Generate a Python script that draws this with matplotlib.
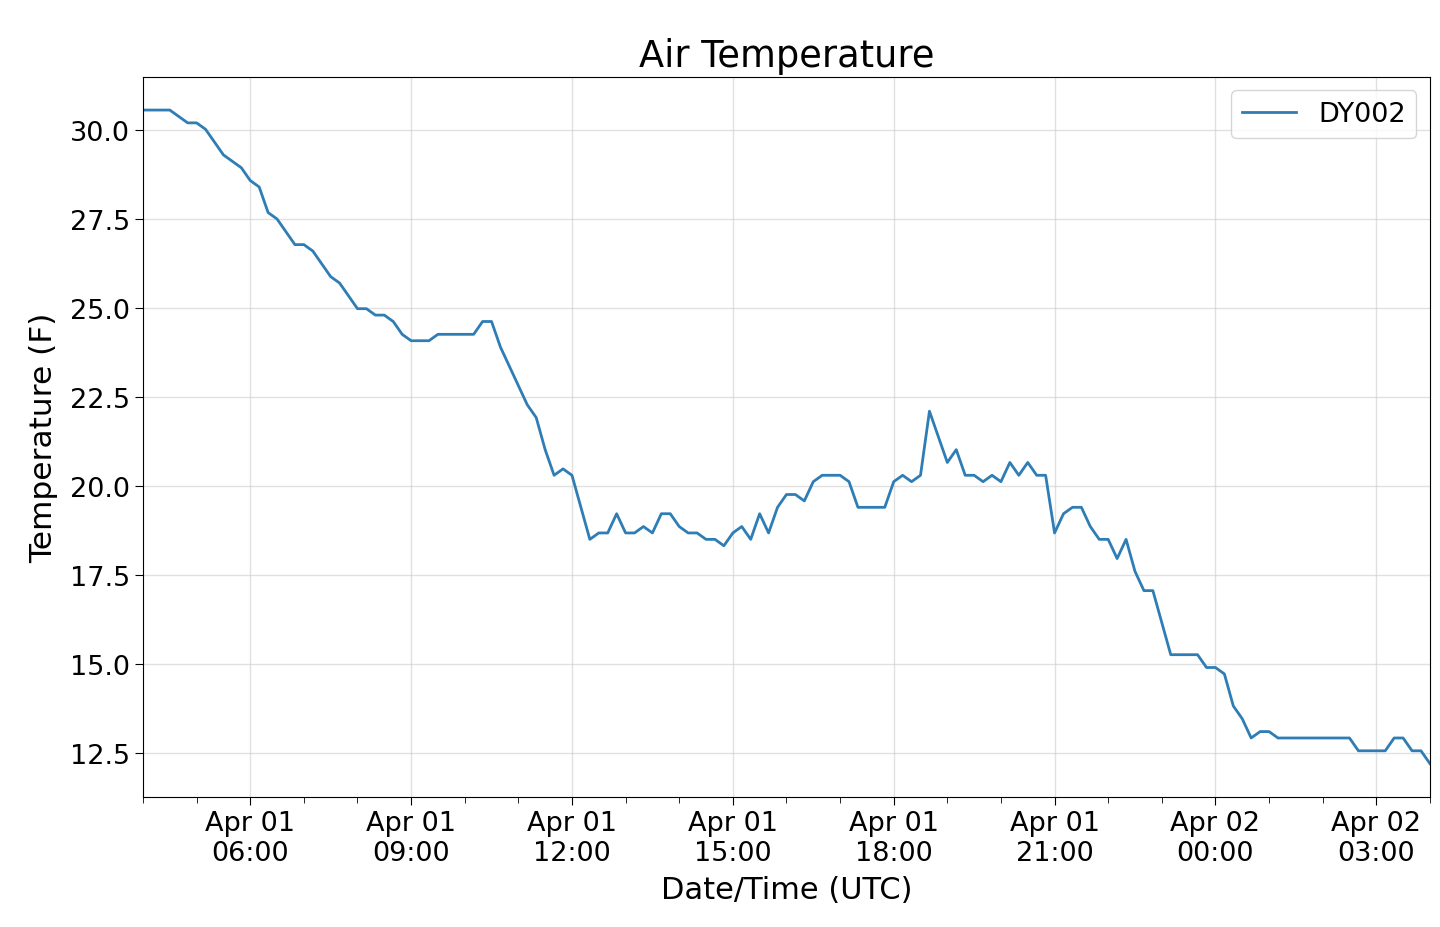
import pandas as pd
import matplotlib
matplotlib.use('Agg')
import matplotlib.pyplot as plt
import matplotlib.dates as mdates

# Lecturas cada 10 minutos, 04:00 Apr 01 -> 04:00 Apr 02
tiempos = pd.date_range('2019-04-01 04:00', periods=145, freq='10min')

temp_f = [
    30.56, 30.56, 30.56, 30.56, 30.38, 30.2, 30.2, 30.02, 29.66, 29.3,
    29.12, 28.94, 28.58, 28.4, 27.68, 27.5, 27.14, 26.78, 26.78, 26.6,
    26.24, 25.88, 25.7, 25.34, 24.98, 24.98, 24.8, 24.8, 24.62, 24.26,
    24.08, 24.08, 24.08, 24.26, 24.26, 24.26, 24.26, 24.26, 24.62, 24.62,
    23.9, 23.36, 22.82, 22.28, 21.92, 21.02, 20.3, 20.48, 20.3, 19.4,
    18.5, 18.68, 18.68, 19.22, 18.68, 18.68, 18.86, 18.68, 19.22, 19.22,
    18.86, 18.68, 18.68, 18.5, 18.5, 18.32, 18.68, 18.86, 18.5, 19.22,
    18.68, 19.4, 19.76, 19.76, 19.58, 20.12, 20.3, 20.3, 20.3, 20.12,
    19.4, 19.4, 19.4, 19.4, 20.12, 20.3, 20.12, 20.3, 22.1, 21.38,
    20.66, 21.02, 20.3, 20.3, 20.12, 20.3, 20.12, 20.66, 20.3, 20.66,
    20.3, 20.3, 18.68, 19.22, 19.4, 19.4, 18.86, 18.5, 18.5, 17.96,
    18.5, 17.6, 17.06, 17.06, 16.16, 15.26, 15.26, 15.26, 15.26, 14.9,
    14.9, 14.72, 13.82, 13.46, 12.92, 13.1, 13.1, 12.92, 12.92, 12.92,
    12.92, 12.92, 12.92, 12.92, 12.92, 12.92, 12.56, 12.56, 12.56, 12.56,
    12.92, 12.92, 12.56, 12.56, 12.2,
]

estacion = 'DY002'

fig, ax = plt.subplots(figsize=(14.4, 9.28), dpi=100)
fig.subplots_adjust(left=0.0993, right=0.993, top=0.916, bottom=0.14)

ax.plot(tiempos, temp_f, color='#2e7db5', linewidth=2, label=estacion)
ax.set_xlim(tiempos[0], tiempos[-1])
ax.set_ylim(11.26, 31.49)

ax.xaxis.set_major_locator(mdates.HourLocator(byhour=range(0, 24, 3)))
ax.xaxis.set_minor_locator(mdates.HourLocator())
ax.xaxis.set_major_formatter(mdates.DateFormatter('%b %d\n%H:%M'))
ax.tick_params(axis='both', which='major', labelsize=19.5, length=6)
ax.tick_params(axis='x', which='minor', length=4)

ax.grid(True, color='#cccccc', alpha=0.6, linewidth=1)
ax.set_title('Air Temperature', fontsize=26.5, pad=8)
ax.set_xlabel('Date/Time (UTC)', fontsize=22, labelpad=6)
ax.set_ylabel('Temperature (F)', fontsize=22.5, labelpad=8)
ax.legend(loc='upper right', fontsize=19.5, handlelength=2.0)

fig.savefig('out.png', dpi=100)
